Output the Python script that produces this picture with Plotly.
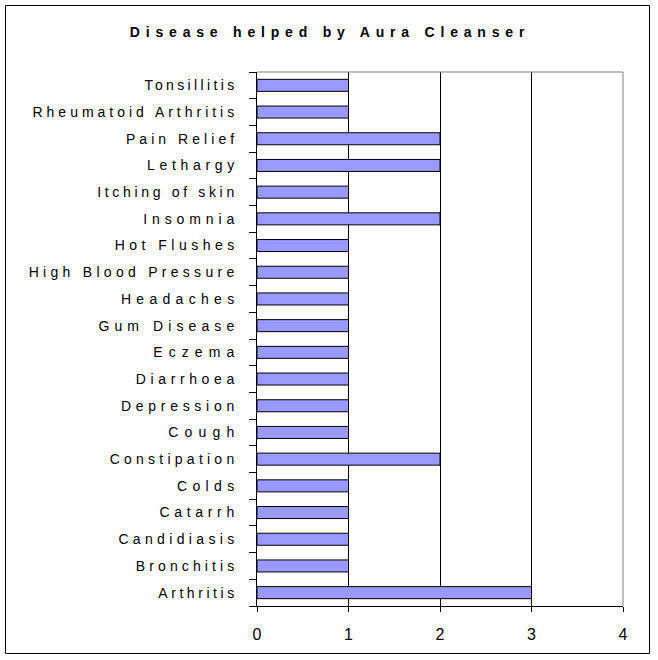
import plotly.graph_objects as go

categories = ["Arthritis", "Bronchitis", "Candidiasis", "Catarrh", "Colds",
              "Constipation", "Cough", "Depression", "Diarrhoea", "Eczema",
              "Gum Disease", "Headaches", "High Blood Pressure", "Hot Flushes",
              "Insomnia", "Itching of skin", "Lethargy", "Pain Relief",
              "Rheumatoid Arthritis", "Tonsillitis"]
values = [3, 1, 1, 1, 1, 2, 1, 1, 1, 1, 1, 1, 1, 1, 2, 1, 2, 2, 1, 1]
x_ticks = [0, 1, 2, 3, 4]
title_text = "Disease helped by Aura Cleanser"

W, H = 658, 660
L, R, T, B = 257, 623, 72, 606

fig = go.Figure(go.Bar(
    x=values, y=categories, orientation="h",
    marker=dict(color="#9999FF", line=dict(color="#000000", width=1)),
    hoverinfo="x+y",
))

def px_x(p):
    return (p - L) / (R - L)

def px_y(p):
    return (B - p) / (B - T)

fig.update_layout(
    width=W, height=H,
    margin=dict(l=L, r=W - R, t=T, b=H - B, pad=0),
    paper_bgcolor="white", plot_bgcolor="white",
    bargap=0.55,
    showlegend=False,
    font=dict(family="Liberation Sans, Arial, sans-serif", size=13, color="#000000"),
    title=dict(text=title_text, x=(327 + 3) / W, xanchor="center", xref="container",
               y=1 - 32 / H, yanchor="middle", yref="container",
               font=dict(family="Liberation Sans, Arial, sans-serif", size=14,
                         weight=700, color="#000000")),
    xaxis=dict(range=[0, 4], tickvals=x_ticks, ticktext=[str(v) for v in x_ticks],
               showgrid=True, gridcolor="#000000", gridwidth=1,
               showline=True, linecolor="#000000", linewidth=1,
               ticks="outside", ticklen=5, tickcolor="#000000",
               zeroline=False, fixedrange=True,
               ticklabelstandoff=9,
               tickfont=dict(size=16, color="#000000")),
    yaxis=dict(type="category", categoryorder="array", categoryarray=categories,
               tickson="boundaries", ticks="outside", ticklen=7, tickcolor="#000000",
               showline=True, linecolor="#000000", linewidth=1,
               showgrid=False, fixedrange=True,
               range=[-0.5, len(categories) - 0.5],
               ticklabelstandoff=19,
               tickfont=dict(size=14, color="#000000")),
    shapes=[
        dict(type="line", xref="paper", yref="paper", x0=0, x1=1, y0=1, y1=1,
             line=dict(color="#808080", width=1), layer="above"),
        dict(type="line", xref="paper", yref="paper", x0=1, x1=1, y0=0, y1=1,
             line=dict(color="#808080", width=1), layer="above"),
        dict(type="rect", xref="paper", yref="paper",
             x0=px_x(5.5), x1=px_x(649.5), y0=px_y(653.5), y1=px_y(5.5),
             line=dict(color="#000000", width=1), fillcolor="rgba(0,0,0,0)",
             layer="above"),
    ],
)

post = """
document.body.style.margin='0';
document.body.style.padding='0';
document.querySelectorAll('.ytick text').forEach(function(t){
  var w = t.getComputedTextLength();
  t.setAttribute('textLength', (w*1.6).toFixed(1));
  t.setAttribute('lengthAdjust', 'spacing');
});
document.querySelectorAll('.gtitle').forEach(function(t){t.style.letterSpacing='5.8px';});
"""

fig.write_html("out.html", post_script=post, config={"displayModeBar": False})
